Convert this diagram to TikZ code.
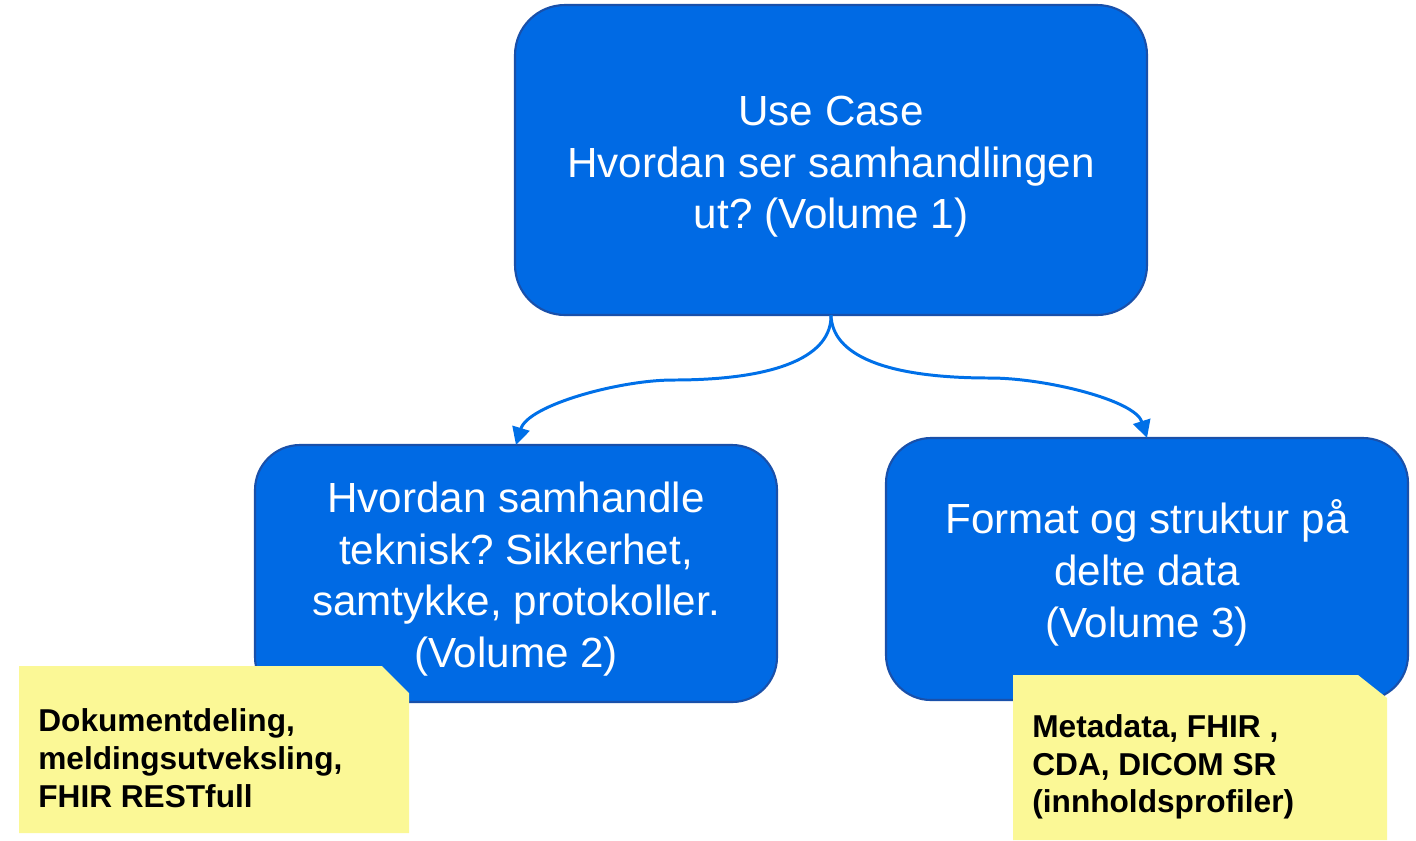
\documentclass[tikz,border=0pt]{standalone}
\usepackage{fontspec}
\setmainfont{Liberation Sans}
\usetikzlibrary{arrows.meta}
\frenchspacing
\definecolor{boxblue}{RGB}{0,106,228}
\definecolor{boxedge}{RGB}{25,80,170}
\definecolor{linkblue}{RGB}{0,112,232}
\definecolor{notefill}{RGB}{251,248,150}
\newcommand{\firstline}{\rule{0pt}{23.8pt}}
\tikzset{
  bluebox/.style={draw=boxedge, line width=1.2pt, fill=boxblue, text=white,
    align=center, inner sep=0pt, outer sep=0pt,
    font=\fontsize{24}{29.5}\selectfont},
  link/.style={draw=linkblue, line width=1.7pt,
    -{Triangle[length=10pt,width=10pt]}},
  notetext/.style={anchor=west, align=left, inner sep=0pt,
    font=\fontsize{18}{21.5}\selectfont\bfseries},
  notebg/.style={fill=notefill, draw=none}
}
\begin{document}
\begin{tikzpicture}[x=0.02cm,y=-0.02cm]
\useasboundingbox (0,0) rectangle (1416,840);
% main boxes
\node[bluebox, minimum width=632*0.02cm, minimum height=310*0.02cm,
  rounded corners=1cm] (top) at (831,160)
  {\rule{0pt}{24.4pt}Use Case\\Hvordan ser samhandlingen\\ut? (Volume 1)};
\node[bluebox, minimum width=522*0.02cm, minimum height=257*0.02cm,
  rounded corners=0.9cm] (lb) at (516,573.5)
  {\firstline Hvordan samhandle\\teknisk? Sikkerhet,\\samtykke, protokoller.\\(Volume 2)};
\node[bluebox, minimum width=522*0.02cm, minimum height=262*0.02cm,
  rounded corners=0.9cm] (rb) at (1147,569)
  {\firstline Format og struktur på\\delte data\\(Volume 3)};
% connectors
\coordinate (lm) at (673,380);
\coordinate (rm) at (990,378);
\draw[link] (top.south) .. controls (832,355) and (780,380) .. (lm)
  .. controls (620,380) and (528,405) .. (lb.north);
\draw[link] (top.south) .. controls (832,355) and (885,378) .. (rm)
  .. controls (1045,378) and (1135,400) .. (rb.north);
% sticky notes with a clipped corner
\path[notebg] (19,666) -- (382,666) -- (409,693) -- (409,833) -- (19,833) -- cycle;
\node[notetext] (n1) at (38,758)
  {Dokumentdeling,\\meldingsutveksling,\\FHIR RESTfull};
\path[notebg] (1013,675) -- (1358,675) -- (1387,698) -- (1387,840) -- (1013,840) -- cycle;
\node[notetext] (n2) at (1032,767)
  {Metadata, FHIR ,\\CDA, DICOM SR\\(innholdsprofiler)};
\end{tikzpicture}
\end{document}
